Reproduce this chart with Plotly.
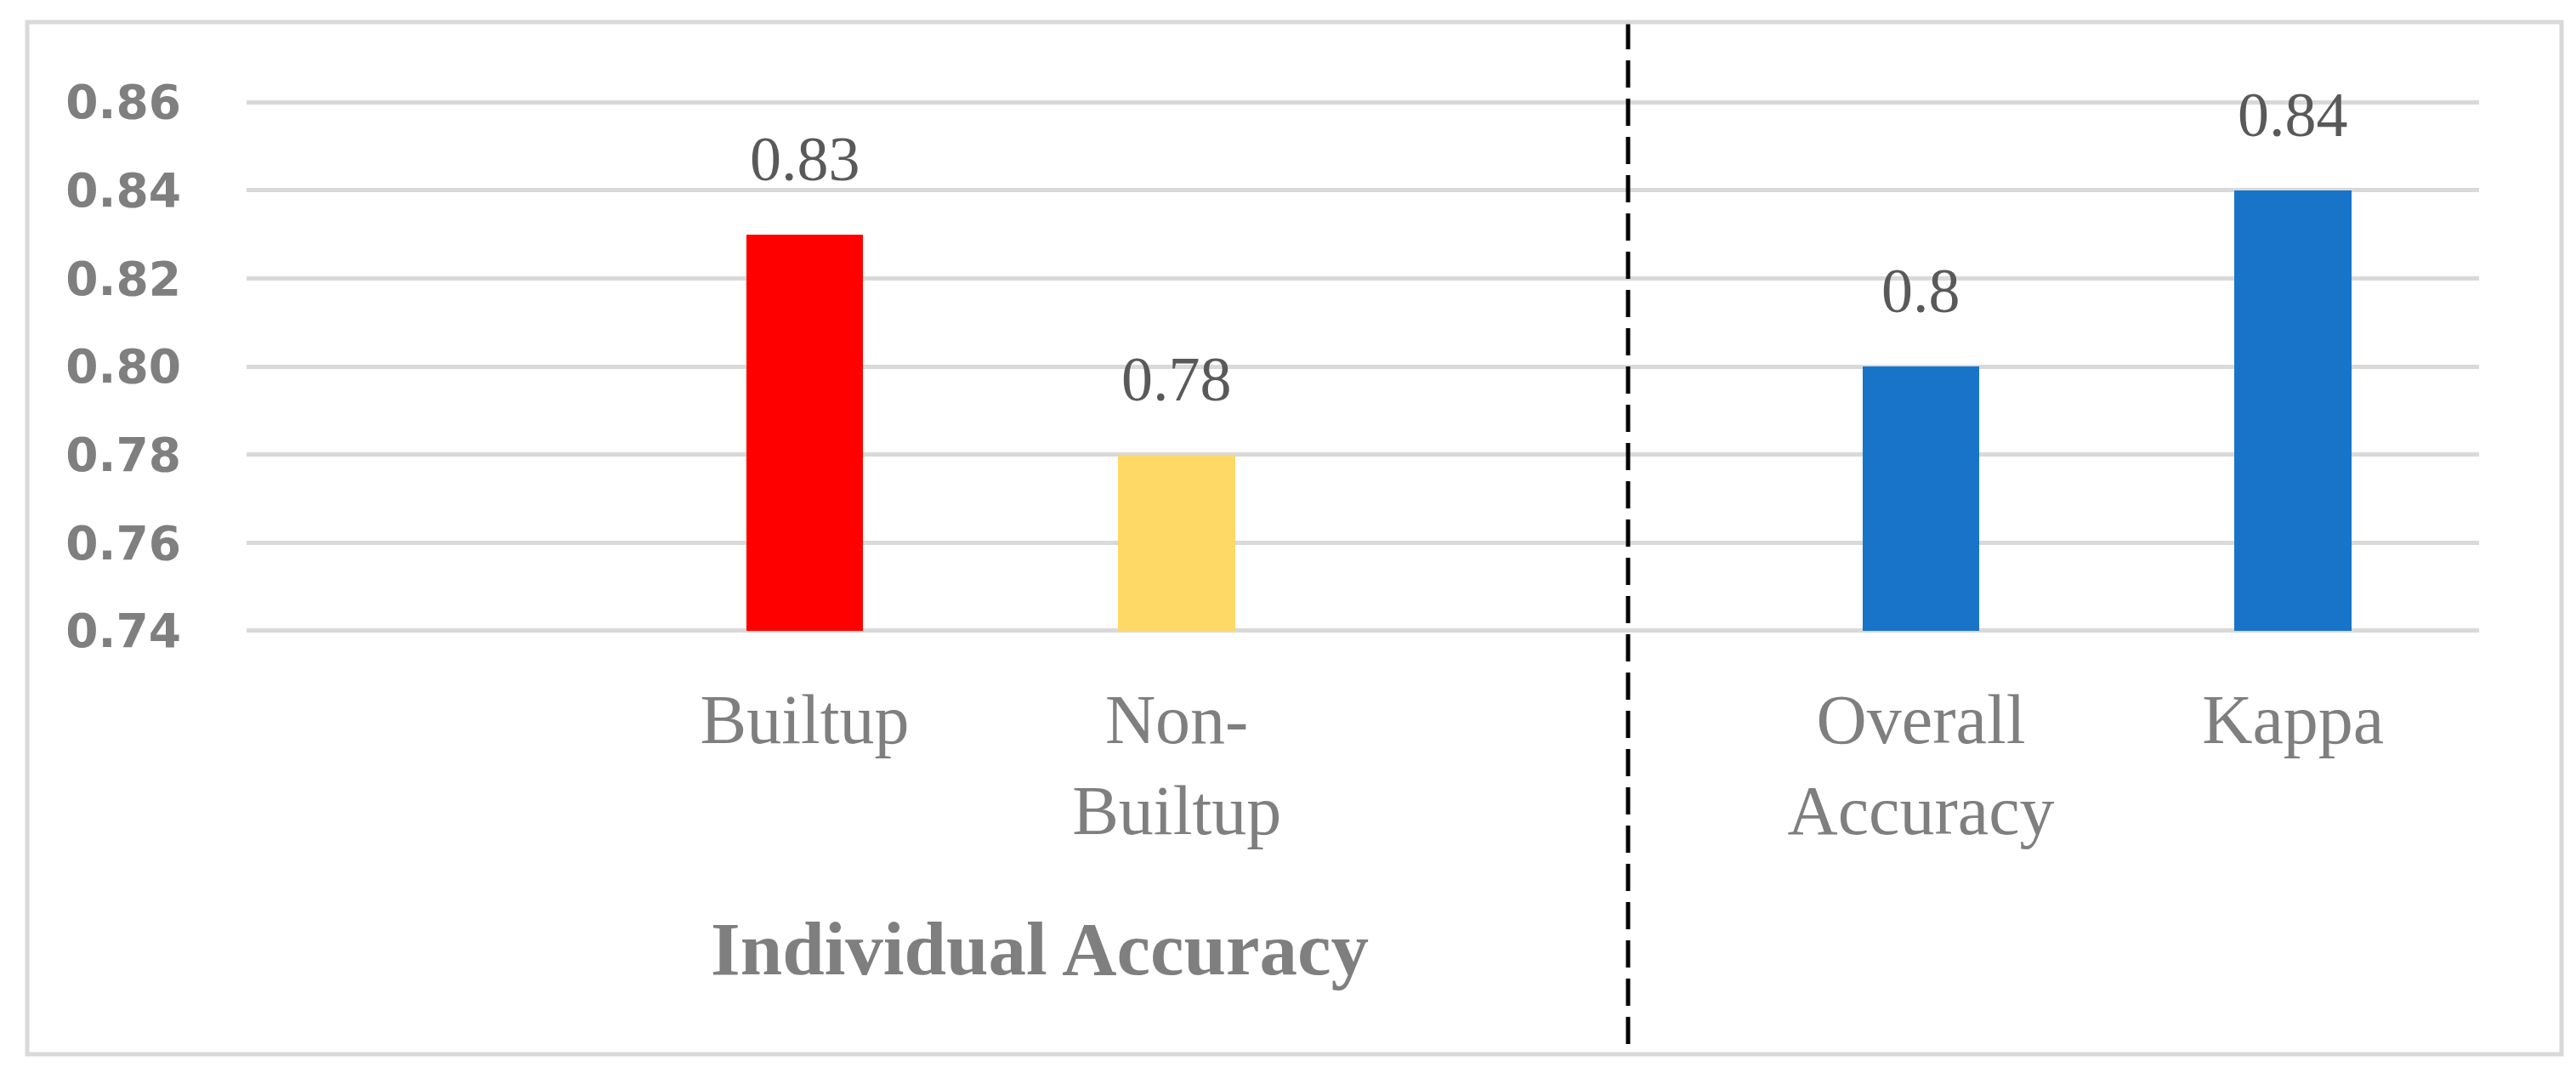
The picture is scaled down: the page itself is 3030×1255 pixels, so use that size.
import plotly.graph_objects as go

# chart data
categories = ["Builtup", "Non-<br>Builtup", "Overall<br>Accuracy", "Kappa"]
positions = [1, 2, 4, 5]          # slots 0 and 3 are left empty, as in the source
values = [0.83, 0.78, 0.8, 0.84]
colors = ["#ff0000", "#ffd966", "#1874c9", "#1874c9"]
y_ticks = [0.74, 0.76, 0.78, 0.80, 0.82, 0.84, 0.86]

W, H = 3030, 1255
L, R, T, B = 282, 122, 110, 519
plot_w = W - L - R
plot_h = H - T - B

def px_x(px):
    return (px - L) / plot_w

def px_y(py):
    return (H - B - py) / plot_h

fig = go.Figure()
fig.add_trace(go.Bar(x=positions, y=values, base=0.74, width=0.315,
                     marker=dict(color=colors, line_width=0),
                     showlegend=False, hoverinfo="x+y"))
fig.data[0].y = [v - 0.74 for v in values]

# value labels above the bars
for xv, yv in zip(positions, values):
    fig.add_annotation(x=xv, y=yv, text=str(yv), showarrow=False,
                       yanchor="bottom", yshift=46,
                       font=dict(family="Liberation Serif", size=74, color="#595959"))

# group label
fig.add_annotation(xref="paper", yref="paper", x=px_x(1215), y=px_y(1108),
                   text="<b>Individual Accuracy</b>", showarrow=False,
                   xanchor="center", yanchor="middle",
                   font=dict(family="Liberation Serif", size=89, color="#7f7f7f"))

# separator and outer frame
fig.add_shape(type="line", xref="paper", yref="paper",
              x0=px_x(1907), x1=px_x(1907), y0=px_y(18), y1=px_y(1232),
              line=dict(color="black", width=5, dash="32px,13px"))
fig.add_shape(type="rect", xref="paper", yref="paper",
              x0=px_x(24), x1=px_x(3005), y0=px_y(18), y1=px_y(1232),
              line=dict(color="#d9d9d9", width=5), fillcolor="rgba(0,0,0,0)")

fig.update_xaxes(range=[-0.5, 5.5], tickvals=positions, ticktext=categories,
                 showgrid=False, showline=False, zeroline=False, ticks="",
                 ticklabelstandoff=47,
                 tickfont=dict(family="Liberation Serif", size=82, color="#7f7f7f"))
fig.update_yaxes(range=[0.7396, 0.8604], tickvals=y_ticks, tickformat=".2f",
                 showgrid=True, gridcolor="#d9d9d9", gridwidth=5,
                 showline=False, zeroline=False, ticks="",
                 ticklabelstandoff=76,
                 tickfont=dict(family="DejaVu Sans", size=55, color="#7f7f7f", weight="bold"))

fig.update_layout(width=W, height=H, margin=dict(l=L, r=R, t=T, b=B),
                  plot_bgcolor="white", paper_bgcolor="white", bargap=0)

fig.write_html("out.html")
